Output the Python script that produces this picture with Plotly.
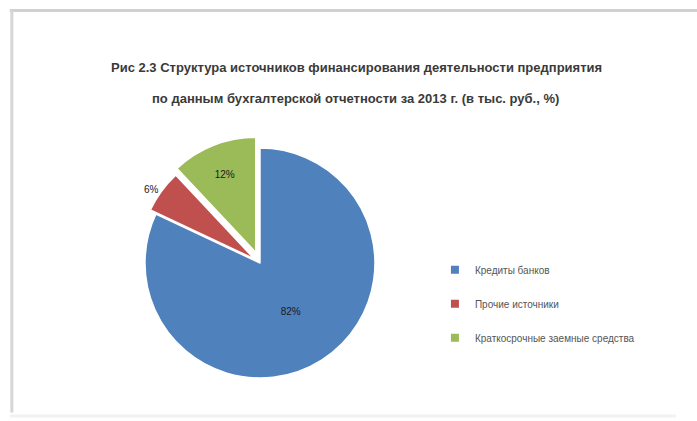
import plotly.graph_objects as go

labels = ["Кредиты банков", "Прочие источники", "Краткосрочные заемные средства"]
values = [82, 6, 12]
colors = ["#4F81BD", "#C0504D", "#9BBB59"]
pulls = [0, 0.06, 0.1]
title_lines = ["Рис 2.3 Структура источников финансирования деятельности предприятия",
               "по данным бухгалтерской отчетности за 2013 г. (в тыс. руб., %)"]

fig = go.Figure()
fig.add_trace(go.Pie(
    labels=labels, values=values, sort=False, direction="clockwise", rotation=0,
    marker=dict(colors=colors, line=dict(color="white", width=1.5)),
    pull=pulls,
    texttemplate="%{percent:.0%}",
    textposition=["inside", "outside", "inside"],
    textfont=dict(size=10, color="#1a1a1a", family="Liberation Sans"),
    insidetextorientation="horizontal",
    domain=dict(x=[0.1915, 0.5545], y=[0.0748, 0.6758]),
    showlegend=False,
))

# legend entries (one group per category so spacing can match the reference)
for lab, col in zip(labels, colors):
    fig.add_trace(go.Scatter(
        x=[None], y=[None], mode="markers", name=lab, legendgroup=lab,
        marker=dict(symbol="square", size=8, color=col),
        showlegend=True, hoverinfo="skip",
    ))

fig.update_layout(
    width=697, height=421,
    margin=dict(l=0, r=0, t=0, b=0),
    paper_bgcolor="white", plot_bgcolor="white",
    font=dict(family="Liberation Sans", color="#333333"),
    xaxis=dict(visible=False), yaxis=dict(visible=False),
    legend=dict(x=0.624, y=0.394, xanchor="left", yanchor="top",
                font=dict(size=10, color="#555555"), bgcolor="rgba(0,0,0,0)",
                itemwidth=30, tracegroupgap=15),
    annotations=[
        dict(text="<b>" + title_lines[0] + "</b>", xref="paper", yref="paper",
             x=0.511, y=1 - 68 / 421, xanchor="center", yanchor="middle",
             showarrow=False, font=dict(size=13, color="#3a3a3a")),
        dict(text="<b>" + title_lines[1] + "</b>", xref="paper", yref="paper",
             x=0.510, y=1 - 98 / 421, xanchor="center", yanchor="middle",
             showarrow=False, font=dict(size=13, color="#3a3a3a")),
    ],
    shapes=[
        dict(type="line", xref="paper", yref="paper", x0=0.014, x1=1, y0=0.975, y1=0.975,
             line=dict(color="#d0d0d0", width=3)),
        dict(type="line", xref="paper", yref="paper", x0=0.017, x1=0.017, y0=0.02, y1=0.975,
             line=dict(color="#d6d6d6", width=3)),
        dict(type="line", xref="paper", yref="paper", x0=0.014, x1=0.97, y0=0.012, y1=0.012,
             line=dict(color="#f2f2f2", width=3)),
    ],
)

fig.write_html("out.html")
